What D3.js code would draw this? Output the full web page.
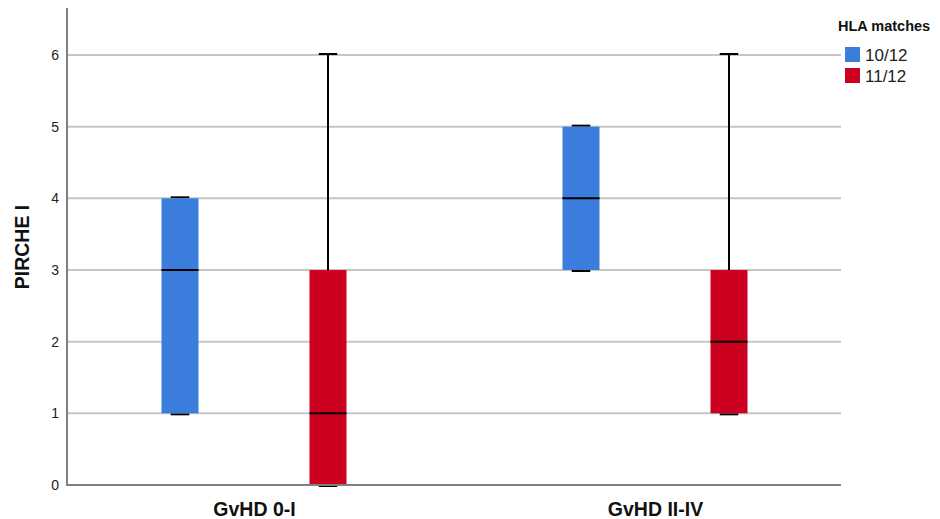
<!DOCTYPE html>
<html>
<head>
<meta charset="utf-8">
<script src="https://cdn.jsdelivr.net/npm/d3@7"></script>
<style>
  body { margin: 0; background: #fff; }
  text { font-family: "Liberation Sans", Arial, sans-serif; }
</style>
</head>
<body>
<div id="chart"></div>
<script>
// categories and groups
var categories = ["GvHD 0-I", "GvHD II-IV"];
var groups = ["10/12", "11/12"];
var groupColors = ["#3a7ddd", "#cc001f"];
var yTicks = [0, 1, 2, 3, 4, 5, 6];

// box stats per group, one value per category
var mins10    = [1, 3];
var q1s10     = [1, 3];
var medians10 = [3, 4];
var q3s10     = [4, 5];
var maxs10    = [4, 5];

var mins11    = [0, 1];
var q1s11     = [0, 1];
var medians11 = [1, 2];
var q3s11     = [3, 3];
var maxs11    = [6, 6];

var W = 940, H = 519;
var plotL = 67, plotR = 841, plotT = 8, plotB = 486;

var boxes = [];
categories.forEach(function(c, i){
    boxes.push({cat: c, grp: groups[0], min: mins10[i], q1: q1s10[i], med: medians10[i], q3: q3s10[i], max: maxs10[i]});
    boxes.push({cat: c, grp: groups[1], min: mins11[i], q1: q1s11[i], med: medians11[i], q3: q3s11[i], max: maxs11[i]});
});

var svg = d3.select("#chart").append("svg")
    .attr("width", W).attr("height", H);

var y = d3.scaleLinear().domain([0, 6]).range([plotB - 1, 55]);
var x = d3.scalePoint().domain(categories).range([254, 655]);
var xg = d3.scaleBand().domain(groups).range([-92.5, 92.5]).paddingInner(0.75).paddingOuter(0);
var color = d3.scaleOrdinal().domain(groups).range(groupColors);

// grid lines
svg.append("g").selectAll("line")
    .data(yTicks.filter(function(d){ return d > 0; }))
    .enter().append("line")
    .attr("x1", plotL).attr("x2", plotR)
    .attr("y1", function(d){ return y(d); }).attr("y2", function(d){ return y(d); })
    .attr("stroke", "#c6c6c6").attr("stroke-width", 2);

// y axis
var yAxis = svg.append("g")
    .attr("transform", "translate(" + plotL + ",0)")
    .call(d3.axisLeft(y).tickValues(yTicks).tickSize(0).tickPadding(8).tickFormat(d3.format("d")));
yAxis.select(".domain").remove();
yAxis.selectAll("text").attr("font-size", 14).attr("fill", "#222");

// x labels
var xAxis = svg.append("g")
    .attr("transform", "translate(0," + plotB + ")")
    .call(d3.axisBottom(x).tickSize(0).tickPadding(16));
xAxis.select(".domain").remove();
xAxis.selectAll("text").attr("font-size", 19.5).attr("font-weight", "bold").attr("fill", "#111");

// boxes
var bw = xg.bandwidth();
var box = svg.append("g").selectAll("g")
    .data(boxes).enter().append("g")
    .attr("transform", function(d){ return "translate(" + (x(d.cat) + xg(d.grp)) + ",0)"; });

// whiskers
box.append("line")
    .attr("x1", bw / 2).attr("x2", bw / 2)
    .attr("y1", function(d){ return y(d.max); }).attr("y2", function(d){ return y(d.q3); })
    .attr("stroke", "#000").attr("stroke-width", 2);
box.append("line")
    .attr("x1", bw / 2).attr("x2", bw / 2)
    .attr("y1", function(d){ return y(d.q1); }).attr("y2", function(d){ return y(d.min); })
    .attr("stroke", "#000").attr("stroke-width", 2);

// caps
box.append("line")
    .attr("x1", bw / 4).attr("x2", bw * 3 / 4)
    .attr("y1", function(d){ return y(d.max) - 1; }).attr("y2", function(d){ return y(d.max) - 1; })
    .attr("stroke", "#000").attr("stroke-width", 2);
box.append("line")
    .attr("x1", bw / 4).attr("x2", bw * 3 / 4)
    .attr("y1", function(d){ return y(d.min) + 1; }).attr("y2", function(d){ return y(d.min) + 1; })
    .attr("stroke", "#000").attr("stroke-width", 2);

box.append("rect")
    .attr("x", 0).attr("width", bw)
    .attr("y", function(d){ return y(d.q3); })
    .attr("height", function(d){ return y(d.q1) - y(d.q3); })
    .attr("fill", function(d){ return color(d.grp); });

// median
box.append("line")
    .attr("x1", 0).attr("x2", bw)
    .attr("y1", function(d){ return y(d.med); }).attr("y2", function(d){ return y(d.med); })
    .attr("stroke", "#000").attr("stroke-width", 2);

// axis lines on top
svg.append("line").attr("x1", plotL).attr("x2", plotL).attr("y1", plotT).attr("y2", plotB)
    .attr("stroke", "#7f7f7f").attr("stroke-width", 2);
svg.append("line").attr("x1", plotL - 1).attr("x2", plotR).attr("y1", plotB - 1).attr("y2", plotB - 1)
    .attr("stroke", "#7f7f7f").attr("stroke-width", 2);

// y title
svg.append("text")
    .attr("transform", "translate(29," + ((plotT + plotB) / 2) + ") rotate(-90)")
    .attr("text-anchor", "middle")
    .attr("font-size", 19.5).attr("font-weight", "bold").attr("fill", "#111")
    .text("PIRCHE I");

// legend
var lg = svg.append("g").attr("transform", "translate(838,0)");
lg.append("text").attr("x", 0).attr("y", 31)
    .attr("font-size", 14.5).attr("font-weight", "bold").attr("fill", "#111")
    .text("HLA matches");
var item = lg.selectAll(".item").data(groups).enter().append("g")
    .attr("transform", function(d, i){ return "translate(0," + (47 + i * 21) + ")"; });
item.append("rect").attr("x", 7).attr("y", 0).attr("width", 15).attr("height", 15)
    .attr("fill", function(d){ return color(d); });
item.append("text").attr("x", 27).attr("y", 14)
    .attr("font-size", 17).attr("fill", "#222")
    .text(function(d){ return d; });
</script>
</body>
</html>
